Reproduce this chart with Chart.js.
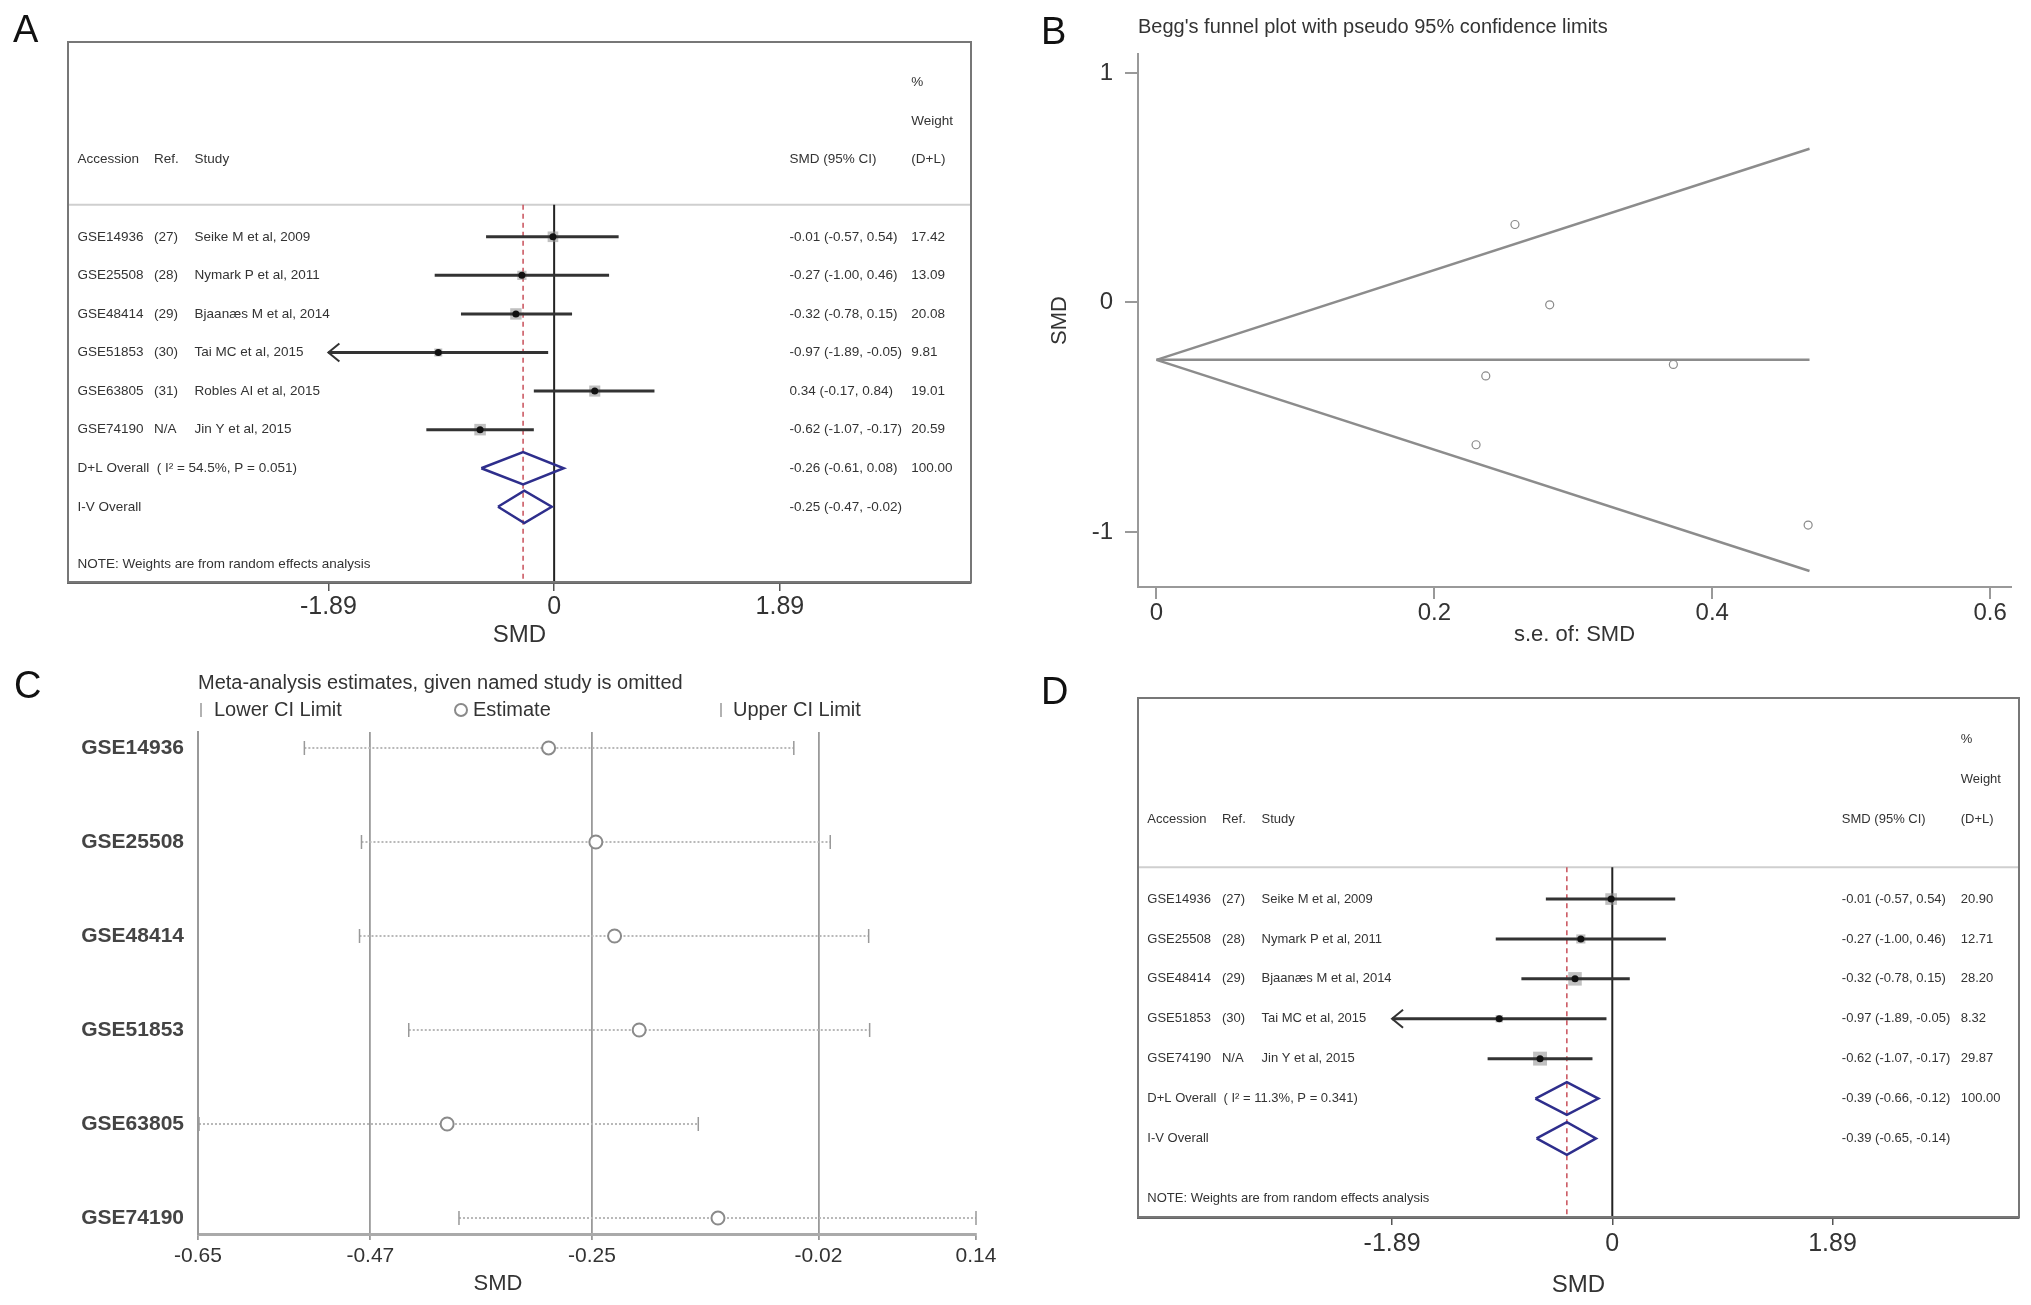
<!DOCTYPE html>
<html>
<head>
<meta charset="utf-8">
<script src="https://cdn.jsdelivr.net/npm/chart.js@4.4.1/dist/chart.umd.min.js"></script>
<style>
  body { margin: 0; background: #fff; }
  #page { position: relative; width: 2031px; height: 1305px; overflow: hidden; font-family: 'Liberation Sans', Arial, Helvetica, sans-serif; }
  canvas { position: absolute; }
  .tag { position: absolute; font-size: 38px; line-height: 38px; color: #111; }
</style>
</head>
<body>
<div id="page">
  <canvas id="chartA" width="1015" height="650" style="left:0;top:0"></canvas>
  <canvas id="chartB" width="1016" height="650" style="left:1015px;top:0"></canvas>
  <canvas id="chartC" width="1015" height="655" style="left:0;top:650px"></canvas>
  <canvas id="chartD" width="1016" height="655" style="left:1015px;top:650px"></canvas>
  <div class="tag" style="left:13px;top:10px">A</div>
  <div class="tag" style="left:1041px;top:12px">B</div>
  <div class="tag" style="left:14px;top:666px">C</div>
  <div class="tag" style="left:1041px;top:672px">D</div>
</div>
<script>
const FONT = "'Liberation Sans', Arial, Helvetica, sans-serif"

// A: forest plot, all six data sets
const accA = ['GSE14936', 'GSE25508', 'GSE48414', 'GSE51853', 'GSE63805', 'GSE74190']
const refA = ['(27)', '(28)', '(29)', '(30)', '(31)', 'N/A']
const studyA = ['Seike M et al, 2009', 'Nymark P et al, 2011', 'Bjaanæs M et al, 2014', 'Tai MC et al, 2015', 'Robles AI et al, 2015', 'Jin Y et al, 2015']
const smdA = [-0.01, -0.27, -0.32, -0.97, 0.34, -0.62]
const loA = [-0.57, -1.00, -0.78, -1.89, -0.17, -1.07]
const hiA = [0.54, 0.46, 0.15, -0.05, 0.84, -0.17]
const weightA = [17.42, 13.09, 20.08, 9.81, 19.01, 20.59]
const dlA = [-0.26, -0.61, 0.08]
const ivA = [-0.25, -0.47, -0.02]
const hetA = 'I² = 54.5%, P = 0.051'

// D: forest plot without GSE63805
const accD = ['GSE14936', 'GSE25508', 'GSE48414', 'GSE51853', 'GSE74190']
const refD = ['(27)', '(28)', '(29)', '(30)', 'N/A']
const studyD = ['Seike M et al, 2009', 'Nymark P et al, 2011', 'Bjaanæs M et al, 2014', 'Tai MC et al, 2015', 'Jin Y et al, 2015']
const smdD = [-0.01, -0.27, -0.32, -0.97, -0.62]
const loD = [-0.57, -1.00, -0.78, -1.89, -1.07]
const hiD = [0.54, 0.46, 0.15, -0.05, -0.17]
const weightD = [20.90, 12.71, 28.20, 8.32, 29.87]
const dlD = [-0.39, -0.66, -0.12]
const ivD = [-0.39, -0.65, -0.14]
const hetD = 'I² = 11.3%, P = 0.341'

const forestTicks = [-1.89, 0, 1.89]
const forestTickLabels = ['-1.89', '0', '1.89']

// B: Begg's funnel plot
const seB = [0.283, 0.372, 0.237, 0.469, 0.258, 0.230]
const smdB = [-0.01, -0.27, -0.32, -0.97, 0.34, -0.62]
const funnelSe = [0, 0.47]
const funnelUpper = [-0.25, 0.67]
const funnelLower = [-0.25, -1.17]
const funnelMid = [-0.25, -0.25]
const bXTicks = [0, 0.2, 0.4, 0.6]
const bYTicks = [-1, 0, 1]

// C: leave-one-out estimates
const accC = ['GSE14936', 'GSE25508', 'GSE48414', 'GSE51853', 'GSE63805', 'GSE74190']
const estC = [-0.294, -0.246, -0.227, -0.202, -0.397, -0.122]
const lowC = [-0.542, -0.484, -0.486, -0.436, -0.649, -0.385]
const uppC = [-0.045, -0.008, 0.031, 0.032, -0.142, 0.14]
const cTicks = [-0.65, -0.475, -0.25, -0.02, 0.14]
const cTickLabels = ['-0.65', '-0.47', '-0.25', '-0.02', '0.14']

// text columns of the forest plots, in SMD units
const COL = { acc: -3.99, ref: -3.35, study: -3.01, smd: 1.97, wt: 2.99 }

const f2 = v => v.toFixed(2)
const ci = (e, l, h) => f2(e) + ' (' + f2(l) + ', ' + f2(h) + ')'

const boxBorder = {
  id: 'boxBorder',
  afterDraw(chart) {
    const { ctx, chartArea: a } = chart
    ctx.save()
    ctx.strokeStyle = '#777'
    ctx.lineWidth = 2
    ctx.strokeRect(a.left, a.top, a.width, a.height)
    ctx.restore()
  }
}

function forestChart(id, o) {
  const rows = o.smd.map((v, i) => i)
  const dlRow = rows.length
  const ivRow = rows.length + 1
  const line = (pts, color, width, order, dash) => ({
    data: pts, showLine: true, pointRadius: 0, borderColor: color,
    borderWidth: width, borderDash: dash || [], order: order
  })
  const diamond = (p, row) => line([
    { x: p[1], y: row }, { x: p[0], y: row - o.dh }, { x: p[2], y: row },
    { x: p[0], y: row + o.dh }, { x: p[1], y: row }
  ], '#2e2e8c', 2.5, 1)

  const datasets = [
    // point estimates
    { data: rows.map(i => ({ x: o.smd[i], y: i })), pointStyle: 'circle', pointRadius: 3.5,
      backgroundColor: '#111', borderColor: '#111', borderWidth: 0, order: 0 },
    // weight boxes
    { data: rows.map(i => ({ x: o.smd[i], y: i })), pointStyle: 'rect',
      pointRadius: o.weight.map(w => Math.sqrt(w) * 1.8),
      backgroundColor: 'rgba(140,140,140,0.55)', borderWidth: 0, order: 3 },
    diamond(o.dl, dlRow),
    diamond(o.iv, ivRow),
    line([{ x: 0, y: o.divider }, { x: 0, y: o.yMax }], '#222', 2, 5),
    line([{ x: o.dl[0], y: o.divider }, { x: o.dl[0], y: o.yMax }], '#c8505a', 1.5, 4, [5, 4]),
    line([{ x: -4.07, y: o.divider }, { x: 3.49, y: o.divider }], '#cfcfcf', 2, 6)
  ]
  rows.forEach(i => {
    datasets.push(line([{ x: Math.max(o.lo[i], forestTicks[0]), y: i }, { x: o.hi[i], y: i }], '#333', 3, 2))
  })

  const forestText = {
    id: 'forestText',
    afterDatasetsDraw(chart) {
      const { ctx, scales: { x, y } } = chart
      const put = (t, col, row) => ctx.fillText(t, x.getPixelForValue(col), y.getPixelForValue(row))
      ctx.save()
      ctx.font = o.fontSize + 'px ' + FONT
      ctx.fillStyle = '#333'
      ctx.textBaseline = 'middle'
      ctx.textAlign = 'left'
      put('%', COL.wt, -4)
      put('Weight', COL.wt, -3)
      put('Accession', COL.acc, -2)
      put('Ref.', COL.ref, -2)
      put('Study', COL.study, -2)
      put('SMD (95% CI)', COL.smd, -2)
      put('(D+L)', COL.wt, -2)
      rows.forEach(i => {
        put(o.acc[i], COL.acc, i)
        put(o.ref[i], COL.ref, i)
        put(o.study[i], COL.study, i)
        put(ci(o.smd[i], o.lo[i], o.hi[i]), COL.smd, i)
        put(f2(o.weight[i]), COL.wt, i)
      })
      put('D+L Overall  ( ' + o.het + ')', COL.acc, dlRow)
      put(ci(o.dl[0], o.dl[1], o.dl[2]), COL.smd, dlRow)
      put('100.00', COL.wt, dlRow)
      put('I-V Overall', COL.acc, ivRow)
      put(ci(o.iv[0], o.iv[1], o.iv[2]), COL.smd, ivRow)
      put('NOTE: Weights are from random effects analysis', COL.acc, o.note)

      // arrow heads for intervals running past the axis range
      ctx.strokeStyle = '#333'
      ctx.lineWidth = 2
      rows.filter(i => o.lo[i] <= forestTicks[0]).forEach(i => {
        const px = x.getPixelForValue(forestTicks[0])
        const py = y.getPixelForValue(i)
        ctx.beginPath()
        ctx.moveTo(px + 11, py - 9)
        ctx.lineTo(px, py)
        ctx.lineTo(px + 11, py + 9)
        ctx.stroke()
      })
      ctx.restore()
    }
  }

  return new Chart(document.getElementById(id), {
    type: 'scatter',
    data: { datasets },
    options: {
      responsive: false,
      animation: false,
      events: [],
      layout: { padding: o.pad },
      plugins: { legend: { display: false }, tooltip: { enabled: false } },
      scales: {
        x: {
          type: 'linear',
          min: -4.07,
          max: 3.49,
          afterFit: s => { s.height = o.axisH },
          afterBuildTicks: s => { s.ticks = forestTicks.map(v => ({ value: v })) },
          ticks: {
            autoSkip: false, maxRotation: 0, padding: o.tickPad, color: '#333',
            font: { family: FONT, size: 25 },
            callback: v => forestTickLabels[forestTicks.indexOf(v)]
          },
          grid: { drawOnChartArea: false, drawTicks: true, tickLength: o.tickLen, color: '#555', lineWidth: 1.5 },
          border: { display: true, color: '#666', width: 3 },
          title: { display: true, text: 'SMD', color: '#333', font: { family: FONT, size: 24 }, padding: { top: 0, bottom: o.titlePad } }
        },
        y: { type: 'linear', reverse: true, min: o.yMin, max: o.yMax, display: false }
      }
    },
    plugins: [forestText, boxBorder]
  })
}

forestChart('chartA', {
  acc: accA, ref: refA, study: studyA, smd: smdA, lo: loA, hi: hiA, weight: weightA,
  dl: dlA, iv: ivA, het: hetA,
  pad: { left: 68, right: 44, top: 42, bottom: 0 }, axisH: 68,
  yMin: -5.05, yMax: 8.95, divider: -0.83, note: 8.5, dh: 0.42,
  tickLen: 9, tickPad: 1, titlePad: 0, fontSize: 13.5
})

forestChart('chartD', {
  acc: accD, ref: refD, study: studyD, smd: smdD, lo: loD, hi: hiD, weight: weightD,
  dl: dlD, iv: ivD, het: hetD,
  pad: { left: 123, right: 12, top: 48, bottom: 0 }, axisH: 88,
  yMin: -5.04, yMax: 7.97, divider: -0.8, note: 7.5, dh: 0.41,
  tickLen: 8, tickPad: 4, titlePad: 5, fontSize: 13
})

// B
const funnelLine = ys => ({
  data: funnelSe.map((s, i) => ({ x: s, y: ys[i] })), showLine: true, pointRadius: 0,
  borderColor: '#8c8c8c', borderWidth: 2.5, order: 1
})
new Chart(document.getElementById('chartB'), {
  type: 'scatter',
  data: {
    datasets: [
      { data: seB.map((s, i) => ({ x: s, y: smdB[i] })), pointStyle: 'circle', pointRadius: 4,
        borderColor: '#8a8a8a', borderWidth: 1.2, backgroundColor: '#fff', order: 0 },
      funnelLine(funnelUpper),
      funnelLine(funnelMid),
      funnelLine(funnelLower)
    ]
  },
  options: {
    responsive: false,
    animation: false,
    events: [],
    layout: { padding: { left: 30, right: 20, top: 0, bottom: 0 } },
    plugins: {
      legend: { display: false },
      tooltip: { enabled: false },
      title: {
        display: true, text: "Begg's funnel plot with pseudo 95% confidence limits",
        align: 'start', fullSize: false, color: '#333',
        font: { family: FONT, size: 20, weight: 'normal' }, padding: { top: 15, bottom: 15 }
      }
    },
    scales: {
      x: {
        type: 'linear', min: -0.0133, max: 0.615,
        afterFit: s => { s.height = 63 },
        afterBuildTicks: s => { s.ticks = bXTicks.map(v => ({ value: v })) },
        ticks: { autoSkip: false, maxRotation: 0, padding: 0, color: '#333', font: { family: FONT, size: 24 } },
        grid: { drawOnChartArea: false, tickLength: 12, color: '#999', lineWidth: 2 },
        border: { display: true, color: '#999', width: 2 },
        title: { display: true, text: 's.e. of: SMD', color: '#333', font: { family: FONT, size: 22 }, padding: { top: 0, bottom: 2 } }
      },
      y: {
        type: 'linear', min: -1.24, max: 1.083,
        afterFit: s => { s.width = 93 },
        afterBuildTicks: s => { s.ticks = bYTicks.map(v => ({ value: v })) },
        ticks: { autoSkip: false, padding: 12, color: '#333', font: { family: FONT, size: 24 } },
        grid: { drawOnChartArea: false, tickLength: 13, color: '#999', lineWidth: 2 },
        border: { display: true, color: '#999', width: 2 },
        title: { display: true, text: 'SMD', color: '#333', font: { family: FONT, size: 22 }, padding: { top: 2, bottom: 0 } }
      }
    }
  }
})

// C
const rowsC = accC.map((a, i) => i + 1)
const legendC = {
  id: 'legendC',
  afterDraw(chart) {
    const ctx = chart.ctx
    ctx.save()
    ctx.font = '20px ' + FONT
    ctx.fillStyle = '#333'
    ctx.textBaseline = 'middle'
    ctx.textAlign = 'left'
    ctx.strokeStyle = '#999'
    ctx.lineWidth = 1.5
    ctx.beginPath()
    ctx.moveTo(201, 53); ctx.lineTo(201, 67)
    ctx.moveTo(721, 53); ctx.lineTo(721, 67)
    ctx.stroke()
    ctx.strokeStyle = '#8a8a8a'
    ctx.lineWidth = 2
    ctx.beginPath()
    ctx.arc(461, 60, 6, 0, Math.PI * 2)
    ctx.stroke()
    ctx.fillText('Lower CI Limit', 214, 60)
    ctx.fillText('Estimate', 473, 60)
    ctx.fillText('Upper CI Limit', 733, 60)
    ctx.font = '22px ' + FONT
    ctx.textAlign = 'center'
    ctx.fillText('SMD', chart.chartArea.left + 300, 634)
    ctx.restore()
  }
}
const capSet = vals => ({
  data: vals.map((v, i) => ({ x: v, y: rowsC[i] })), pointStyle: 'line', pointRotation: 90,
  pointRadius: 7, borderColor: '#999', borderWidth: 1.5, clip: false, order: 1
})
new Chart(document.getElementById('chartC'), {
  type: 'scatter',
  data: {
    datasets: [
      { data: estC.map((v, i) => ({ x: v, y: rowsC[i] })), pointStyle: 'circle', pointRadius: 6.5,
        borderColor: '#8a8a8a', borderWidth: 2, backgroundColor: '#fff', clip: false, order: 0 },
      capSet(lowC),
      capSet(uppC)
    ].concat(rowsC.map((r, i) => ({
      data: [{ x: lowC[i], y: r }, { x: uppC[i], y: r }], showLine: true, pointRadius: 0,
      borderColor: '#b8b8b8', borderWidth: 2, borderDash: [2, 2], order: 3
    })))
  },
  options: {
    responsive: false,
    animation: false,
    events: [],
    layout: { padding: { left: 0, right: 39, top: 0, bottom: 0 } },
    plugins: {
      legend: { display: false },
      tooltip: { enabled: false },
      title: {
        display: true, text: 'Meta-analysis estimates, given named study is omitted',
        align: 'start', fullSize: false, color: '#333',
        font: { family: FONT, size: 20, weight: 'normal' }, padding: { top: 21.5, bottom: 36.5 }
      }
    },
    scales: {
      x: {
        type: 'linear', min: cTicks[0], max: cTicks[cTicks.length - 1],
        afterFit: s => { s.height = 71 },
        afterBuildTicks: s => { s.ticks = cTicks.map(v => ({ value: v })) },
        ticks: {
          autoSkip: false, maxRotation: 0, padding: 4, color: '#333', font: { family: FONT, size: 21 },
          callback: v => cTickLabels[cTicks.indexOf(v)]
        },
        grid: {
          drawOnChartArea: true, tickLength: 6, tickColor: '#999', lineWidth: 1.8,
          color: c => (c.tick && c.tick.value === cTicks[cTicks.length - 1]) ? 'rgba(0,0,0,0)' : '#9a9a9a'
        },
        border: { display: true, color: '#aaa', width: 3 }
      },
      y: {
        type: 'linear', reverse: true, min: 0.83, max: 6.17,
        afterFit: s => { s.width = 198 },
        afterBuildTicks: s => { s.ticks = rowsC.map(v => ({ value: v })) },
        ticks: {
          autoSkip: false, padding: 14, color: '#444', font: { family: FONT, size: 21, weight: 'bold' },
          callback: v => accC[v - 1]
        },
        grid: { display: false, drawTicks: false },
        border: { display: true, color: '#999', width: 2 }
      }
    }
  },
  plugins: [legendC]
})
</script>
</body>
</html>
